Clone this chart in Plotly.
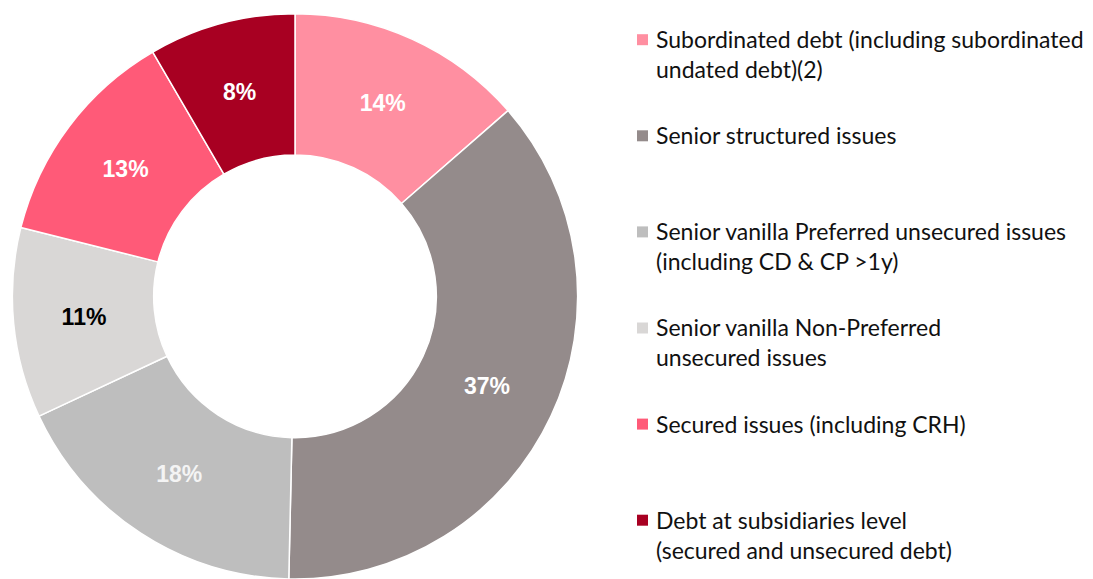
import math
import plotly.graph_objects as go

# The page body has an 8px margin, so the figure is drawn 8px in from the window edge.
OFF = 8
W, H = 1093 - OFF, 579 - OFF

labels = [
    "Subordinated debt (including subordinated<br>undated debt)(2)",
    "Senior structured issues",
    "Senior vanilla Preferred unsecured issues<br>(including CD & CP >1y)",
    "Senior vanilla Non-Preferred<br>unsecured issues",
    "Secured issues (including CRH)",
    "Debt at subsidiaries level<br>(secured and unsecured debt)",
]
# shares (%); shown rounded: 14, 37, 18, 11, 13, 8
values = [13.6, 36.8, 17.7, 10.9, 12.7, 8.4]
colors = ["#FF8FA1", "#948B8B", "#BEBEBE", "#D9D7D6", "#FF5A78", "#A80022"]
text_colors = ["white", "white", "#F4F4F4", "black", "white", "white"]


def px(x):
    return (x - OFF) / W


def py(y):
    return 1 - (y - OFF) / H


HOLE = 0.5
cx, top_y = 295, 13.7
r = (H - (top_y - OFF)) / 2
cy_pie = top_y + r

# last (narrow) slice label is placed at mid-ring like the others via an annotation
textpos = ["inside"] * (len(values) - 1) + ["none"]

fig = go.Figure()
fig.add_trace(go.Pie(
    labels=labels,
    values=values,
    hole=HOLE,
    sort=False,
    direction="clockwise",
    rotation=0,
    marker=dict(colors=colors, line=dict(color="white", width=1.5)),
    texttemplate="%{percent:.0%}",
    textposition=textpos,
    insidetextorientation="horizontal",
    textfont=dict(family="Liberation Sans, Arial, sans-serif", size=23,
                  color=text_colors, weight="bold"),
    domain=dict(x=[px(cx - r), px(cx + r)], y=[0, py(top_y)]),
    showlegend=False,
))

total = sum(values)
cum = sum(values[:-1])
ang = (cum + values[-1] / 2) / total * 2 * math.pi
rm = r * (1 + HOLE) / 2
lx = cx + rm * math.sin(ang)
ly = cy_pie - rm * math.cos(ang)
fig.add_annotation(
    x=px(lx), y=py(ly), xref="paper", yref="paper",
    xanchor="center", yanchor="middle", showarrow=False,
    text=f"{round(values[-1] / total * 100)}%",
    font=dict(family="Liberation Sans, Arial, sans-serif", size=23,
              color=text_colors[-1], weight="bold"),
)

# custom legend
leg_font = dict(family="Lato, sans-serif", size=23, color="#111111")
first_baseline = 47.7
step = 96.1
for i, (lab, col) in enumerate(zip(labels, colors)):
    base = first_baseline + i * step
    top = base - 23.5
    fig.add_annotation(
        x=px(655), y=py(top), xref="paper", yref="paper",
        xanchor="left", yanchor="top", align="left",
        text=lab, showarrow=False, font=leg_font, borderpad=0,
    )
    my = base - 8
    fig.add_shape(
        type="rect", xref="paper", yref="paper",
        x0=px(637), x1=px(648), y0=py(my + 5.5), y1=py(my - 5.5),
        fillcolor=col, line=dict(width=0),
    )

fig.update_layout(
    width=W, height=H,
    margin=dict(l=0, r=0, t=0, b=0),
    paper_bgcolor="white",
    plot_bgcolor="white",
)

fig.write_html("out.html")
